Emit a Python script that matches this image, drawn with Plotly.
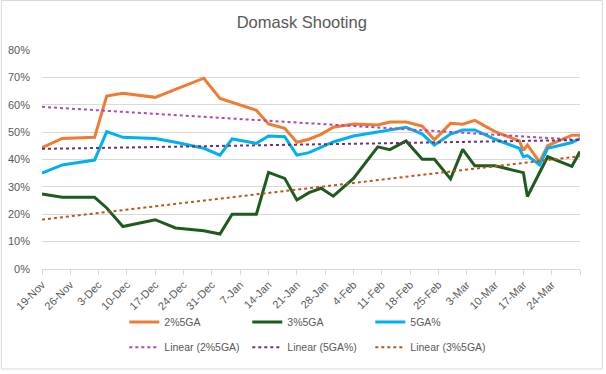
import numpy as np
import pandas as pd
import plotly.graph_objects as go

dates = ["2023-11-19", "2023-11-24", "2023-12-02", "2023-12-05", "2023-12-09", "2023-12-17",
         "2023-12-22", "2023-12-29", "2024-01-02", "2024-01-05", "2024-01-11", "2024-01-14",
         "2024-01-18", "2024-01-21", "2024-01-24", "2024-01-27", "2024-01-30", "2024-02-04",
         "2024-02-10", "2024-02-13", "2024-02-17", "2024-02-21", "2024-02-24", "2024-02-28",
         "2024-03-02", "2024-03-05", "2024-03-10", "2024-03-16", "2024-03-17", "2024-03-18",
         "2024-03-21", "2024-03-23", "2024-03-29", "2024-03-31"]

pct_2_5ga = [44.3, 47.7, 48.1, 63.2, 64.2, 62.7, 65.6, 69.7, 62.3, 60.8, 58.0, 53.0,
             51.4, 46.3, 47.4, 49.2, 51.8, 53.0, 52.6, 53.7, 53.7, 52.2, 47.2, 53.2,
             52.9, 54.3, 50.2, 46.8, 43.3, 45.3, 39.1, 45.1, 48.9, 48.9]

pct_3_5ga = [27.4, 26.2, 26.2, 22.3, 15.5, 18.0, 15.0, 14.0, 12.8, 20.0, 20.0, 35.3,
             33.1, 25.2, 27.9, 29.5, 26.6, 33.1, 44.6, 43.6, 46.8, 40.1, 40.1, 32.9,
             43.7, 37.7, 37.7, 35.4, 35.2, 26.5, 35.4, 41.0, 37.5, 42.9]

pct_5ga = [35.0, 38.0, 39.8, 50.2, 48.1, 47.7, 46.3, 44.1, 41.6, 47.5, 45.9, 48.6,
           48.3, 41.6, 42.5, 44.5, 46.4, 48.6, 50.2, 50.9, 51.8, 49.3, 45.3, 49.3,
           50.8, 50.8, 47.4, 44.1, 41.0, 41.4, 38.0, 44.1, 46.2, 47.7]

tick_labels = ["19-Nov", "26-Nov", "3-Dec", "10-Dec", "17-Dec", "24-Dec", "31-Dec", "7-Jan",
               "14-Jan", "21-Jan", "28-Jan", "4-Feb", "11-Feb", "18-Feb", "25-Feb", "3-Mar",
               "10-Mar", "17-Mar", "24-Mar", ""]

x = pd.to_datetime(dates)
days = (x - x[0]).days.values.astype(float)
tick_pos = pd.date_range("2023-11-19", periods=len(tick_labels), freq="7D")

def trend(vals):
    m, b = np.polyfit(days, np.array(vals), 1)
    return [b + m * days[0], b + m * days[-1]]

TXT = "#595959"
GRID = "#D9D9D9"
FONT = "Liberation Sans"

fig = go.Figure()
series = [("2%5GA", pct_2_5ga, "#ED7D31"),
          ("3%5GA", pct_3_5ga, "#1E5B1E"),
          ("5GA%", pct_5ga, "#00B0F0")]
for name, vals, col in series:
    fig.add_trace(go.Scatter(x=x, y=vals, mode="lines", name=name,
                             line=dict(color=col, width=3), legend="legend"))

trends = [("Linear (2%5GA)", pct_2_5ga, "#B545B5"),
          ("Linear (5GA%)", pct_5ga, "#70306E"),
          ("Linear (3%5GA)", pct_3_5ga, "#B8561E")]
for name, vals, col in trends:
    fig.add_trace(go.Scatter(x=[x[0], x[-1]], y=trend(vals), mode="lines", name=name,
                             line=dict(color=col, width=2, dash="dot"), legend="legend2"))

leg_common = dict(orientation="h", x=0.153, xanchor="left", yanchor="middle",
                  font=dict(family=FONT, size=10.5, color=TXT), entrywidth=78,
                  bgcolor="rgba(0,0,0,0)", traceorder="normal")

fig.update_layout(
    width=606, height=374,
    margin=dict(l=42, r=26, t=50, b=105, autoexpand=False),
    paper_bgcolor="white", plot_bgcolor="white",
    title=dict(text="Domask Shooting", x=0.498, xanchor="center", xref="container",
               y=0.94, yanchor="middle", yref="container",
               font=dict(family=FONT, size=16.5, color=TXT)),
    xaxis=dict(type="date", range=[tick_pos[0], tick_pos[-1]], automargin=False,
               tickmode="array", tickvals=tick_pos, ticktext=tick_labels,
               tickangle=-45, tickfont=dict(family=FONT, size=11, color=TXT),
               showgrid=False, showline=True, linecolor=GRID, linewidth=1,
               ticks="outside", ticklen=5, tickcolor=GRID, zeroline=False,
               ticklabelstandoff=-1),
    yaxis=dict(range=[0, 80], dtick=10, ticksuffix="%", automargin=False,
               tickfont=dict(family=FONT, size=11, color=TXT),
               showgrid=True, gridcolor=GRID, gridwidth=1, zeroline=False,
               showline=False, ticks="", ticklabelstandoff=11),
    legend=dict(y=-0.242, **leg_common),
    legend2=dict(y=-0.357, **leg_common),
    shapes=[dict(type="rect", xref="paper", yref="paper",
                 x0=-0.0756, x1=1.0415, y0=-0.4566, y1=1.2260,
                 line=dict(color=GRID, width=1), fillcolor="rgba(0,0,0,0)", layer="below")],
)

fig.write_html("out.html", config={"displayModeBar": False},
               post_script="document.body.style.margin='0';")
